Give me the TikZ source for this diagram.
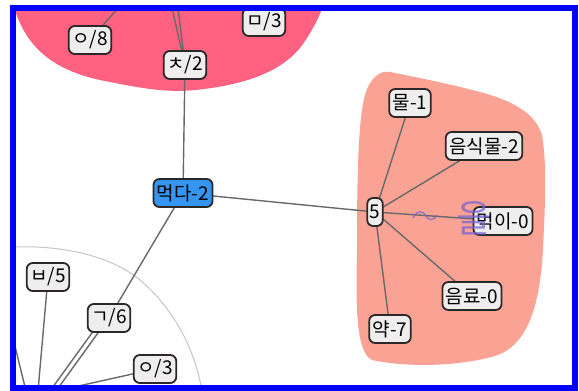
\documentclass[tikz,border=0pt]{standalone}
\usepackage{fontspec}
\newfontfamily\kr{Noto Sans CJK KR}
\definecolor{blobred}{RGB}{255,98,128}
\definecolor{blobsalmon}{RGB}{250,162,148}
\definecolor{boxfill}{RGB}{238,238,238}
\definecolor{boxline}{RGB}{45,40,40}
\definecolor{hub}{RGB}{52,150,240}
\definecolor{edgegray}{RGB}{105,105,105}
\definecolor{ghost}{RGB}{120,100,210}
\tikzset{
  lab/.style={draw=boxline, fill=boxfill, rounded corners=6pt, line width=1.8pt,
    font=\kr\fontsize{19}{21}\selectfont, inner xsep=3.5pt, inner ysep=1pt, minimum height=28pt},
  hubbox/.style={lab, fill=hub},
  conn/.style={draw=edgegray, line width=1.4pt},
}
\begin{document}
\begin{tikzpicture}[x=1pt,y=-1pt]
\useasboundingbox (0,0) rectangle (579,391);
\fill[white] (0,0) rectangle (579,391);
\begin{scope}
\clip (13,8) rectangle (575,388);
% red blob top
\fill[blobred] (12,0) .. controls (22,40) and (45,68) .. (100,80)
  .. controls (140,88) and (165,93) .. (195,90)
  .. controls (245,85) and (280,72) .. (300,48)
  .. controls (315,28) and (322,10) .. (325,0) -- cycle;
% salmon blob right
\fill[blobsalmon] (390,72) .. controls (420,78) and (450,84) .. (480,92)
  .. controls (510,100) and (535,112) .. (542,135)
  .. controls (548,170) and (544,220) .. (543,250)
  .. controls (540,300) and (530,345) .. (495,356)
  .. controls (460,366) and (410,368) .. (372,360)
  .. controls (355,352) and (356,300) .. (357,250)
  .. controls (357,180) and (358,120) .. (365,95)
  .. controls (370,78) and (380,70) .. (390,72) -- cycle;
% gray arc
\draw[gray!45, line width=1pt] (13,247) .. controls (60,245) and (110,255) .. (140,280)
  .. controls (175,310) and (195,350) .. (202,391);

% free ends
\coordinate (t1) at (118,8);
\coordinate (t2) at (172,8);
\coordinate (t3) at (178,8);
\coordinate (b1) at (38,391);
\coordinate (b3) at (50,391);
\coordinate (b4) at (56,391);
\coordinate (l1) at (13,338);
\coordinate (l2) at (26,391);

% node centres
\path (90,40) coordinate (o8c) (264,22) coordinate (m3c) (185,65) coordinate (ch2c)
  (183,193) coordinate (hubc) (375,212) coordinate (fivec) (410,103) coordinate (mulc)
  (484,146) coordinate (foodc) (503,221) coordinate (preyc) (472,296) coordinate (drinkc)
  (390,329) coordinate (medc) (48,277) coordinate (b5c) (109,318) coordinate (g6c)
  (155,369) coordinate (o3c);

\draw[conn] (o8c) -- (t1);
\draw[conn] (ch2c) -- (t2);
\draw[conn] (ch2c) -- (t3);
\draw[conn] (hubc) -- (ch2c);
\draw[conn] (hubc) -- (fivec);
\draw[conn] (hubc) -- (g6c);
\draw[conn] (fivec) -- (mulc);
\draw[conn] (fivec) -- (foodc);
\draw[conn] (fivec) -- (preyc);
\draw[conn] (fivec) -- (drinkc);
\draw[conn] (fivec) -- (medc);
\draw[conn] (b5c) -- (b1);
\draw[conn] ([shift={(-12,8)}]g6c) -- (b3);
\draw[conn] ([shift={(-6,8)}]g6c) -- (b4);
\draw[conn] (o3c) -- (b4);
\draw[conn] (l1) -- (l2);

% ghost tilde stroke
\coordinate (tl) at (413,218);
\coordinate (tr) at (437,215);
\draw[ghost, opacity=0.8, line width=1.3pt] (tl) .. controls (418,208) and (424,212) .. (426,216)
  .. controls (428,220) and (433,222) .. (tr);

\node[lab] (o8) at (o8c) {ㅇ/8};
\node[lab] (m3) at (m3c) {ㅁ/3};
\node[lab] (ch2) at (ch2c) {ㅊ/2};
\node[hubbox] (hub) at (hubc) {먹다-2};
\node[lab, inner xsep=2.5pt] (five) at (fivec) {5};
\node[lab] (mul) at (mulc) {물-1};
\node[lab] (food) at (foodc) {음식물-2};
\node[lab] (drink) at (drinkc) {음료-0};
\node[lab] (med) at (medc) {약-7};
\node[lab] (b5) at (b5c) {ㅂ/5};
\node[lab] (g6) at (g6c) {ㄱ/6};
\node[lab] (o3) at (o3c) {ㅇ/3};
\node[lab] (prey) at (preyc) {먹이-0};
\node[text=ghost, opacity=0.75, font=\kr\fontsize{38}{38}\selectfont] (eul) at (474,218) {을};
\end{scope}
\draw[blue, line width=6pt] (13,8) rectangle (575,388);
\end{tikzpicture}
\end{document}
